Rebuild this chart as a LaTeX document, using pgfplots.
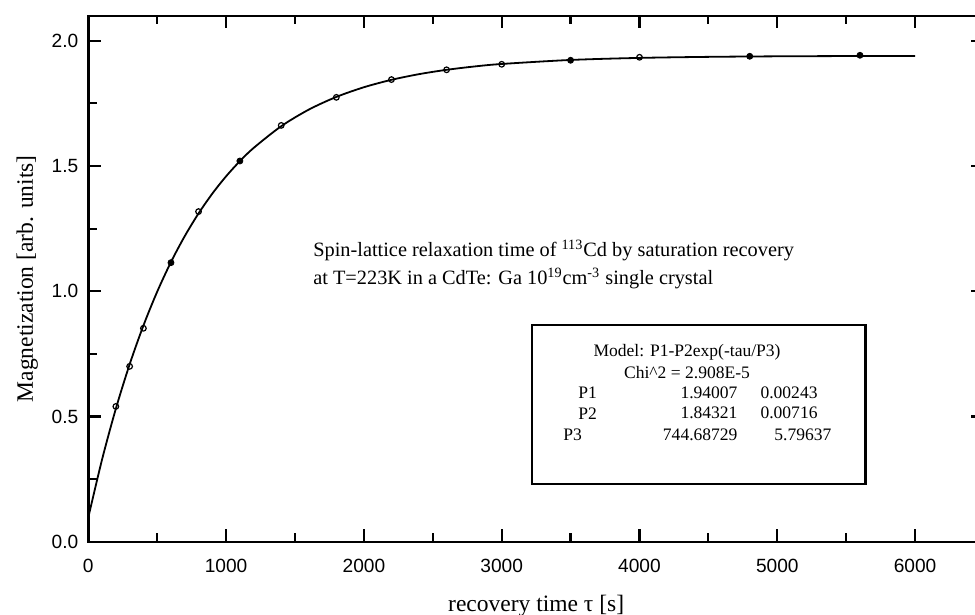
\documentclass[border=0pt]{standalone}
\usepackage{fontspec}
\setmainfont{Liberation Serif}
\setsansfont{Liberation Sans}
\usepackage{pgfplots}
\pgfplotsset{compat=1.18}

\begin{document}
\begin{tikzpicture}[x=1bp,y=1bp]
% page frame: the right axis line falls just outside it
\path[use as bounding box] (-44.15bp,-36.65bp) rectangle (443.35bp,270.85bp);
\begin{axis}[
  at={(0,0)}, anchor=south west,
  scale only axis,
  width=447.85bp, height=263.0bp,
  xmin=0, xmax=6500, ymin=0, ymax=2.1,
  xtick={0,1000,...,6000},
  minor xtick={500,1500,...,6500},
  ytick={0,0.5,...,2.0},
  minor ytick={0.25,0.75,...,2.0},
  tick align=inside,
  major tick length=6.3bp,
  minor tick length=4.2bp,
  every tick/.style={line width=1.1bp, black},
  axis line style={line width=1.2bp},
  /pgf/number format/assume math mode=true,
  ticklabel style={font=\sffamily\fontsize{9.6}{11}\selectfont},
  xticklabel style={/pgf/number format/1000 sep={}, yshift=-5bp},
  yticklabel style={/pgf/number format/fixed, /pgf/number format/fixed zerofill,
                    /pgf/number format/precision=1, xshift=-1.5bp},
  xlabel={recovery time τ [s]},
  ylabel={Magnetization [arb. units]},
  label style={font=\fontsize{11.8}{13}\selectfont},
  xlabel style={yshift=-4.5bp},
  ylabel style={yshift=0bp},
  clip=false,
]
% fitted model M(t) = P1 - P2 exp(-t/P3), tabulated
\addplot[black, line width=0.9bp, smooth] coordinates {
  (0,0.09686) (100,0.32848) (200,0.53101) (300,0.70807) (400,0.86286)
  (500,0.99821) (600,1.11656) (700,1.22006) (800,1.31052) (900,1.38964)
  (1000,1.45881) (1100,1.51928) (1200,1.57215) (1400,1.65882) (1600,1.72506)
  (1800,1.77569) (2000,1.81440) (2200,1.84400) (2400,1.86664) (2600,1.88393)
  (2800,1.89716) (3000,1.90726) (3500,1.92331) (4000,1.93151) (4500,1.93569)
  (5000,1.93783) (5600,1.93907) (6000,1.93949)
};
% measured points, open
\addplot[only marks, mark=o, mark size=1.4bp, mark options={line width=0.6bp, fill=white}] coordinates {
  (200,0.540) (300,0.700) (400,0.852) (800,1.318) (1400,1.662)
  (1800,1.774) (2200,1.845) (2600,1.884) (3000,1.906) (4000,1.934)
};
% measured points, filled
\addplot[only marks, mark=*, mark size=1.5bp] coordinates {
  (600,1.114) (1100,1.520) (3500,1.922) (4800,1.938) (5600,1.942)
};

\node[anchor=west, font=\fontsize{10.2}{12}\selectfont, inner sep=0pt] at (axis cs:1630,1.164)
  {Spin-lattice relaxation time of \textsuperscript{113}Cd by saturation recovery};
\node[anchor=west, font=\fontsize{10.2}{12}\selectfont, inner sep=0pt] at (axis cs:1630,1.052)
  {at T=223K in a CdTe: Ga 10\textsuperscript{19}cm\textsuperscript{-3} single crystal};

\draw[line width=1.2bp] (axis cs:3219,0.2303) rectangle (axis cs:5640,0.8647);
\begin{scope}[every node/.style={font=\fontsize{8.8}{10}\selectfont, inner sep=0pt}]
\node at (axis cs:4345,0.756) {Model: P1-P2exp(-tau/P3)};
\node at (axis cs:4345,0.677) {Chi\^{}2 = 2.908E-5};
\node[anchor=west] at (axis cs:3553,0.593) {P1};
\node[anchor=west] at (axis cs:3553,0.513) {P2};
\node[anchor=west] at (axis cs:3445,0.426) {P3};
\node[anchor=east] at (axis cs:4714,0.593) {1.94007};
\node[anchor=east] at (axis cs:4714,0.513) {1.84321};
\node[anchor=east] at (axis cs:4714,0.426) {744.68729};
\node[anchor=east] at (axis cs:5295,0.593) {0.00243};
\node[anchor=east] at (axis cs:5295,0.513) {0.00716};
\node[anchor=east] at (axis cs:5396,0.426) {5.79637};
\end{scope}
\end{axis}
\end{tikzpicture}
\end{document}
